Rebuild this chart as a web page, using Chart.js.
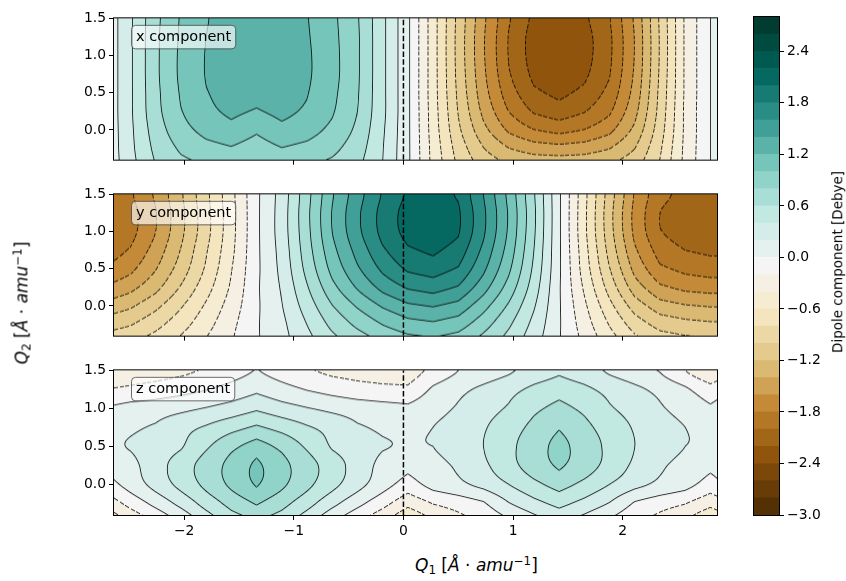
<!DOCTYPE html>
<html>
<head>
<meta charset="utf-8">
<script src="https://cdn.jsdelivr.net/npm/chart.js@4.4.1/dist/chart.umd.min.js"></script>
<style>
html,body{margin:0;padding:0;background:#fff;}
body{width:846px;height:581px;position:relative;overflow:hidden;font-family:'DejaVu Sans',sans-serif;}
canvas{position:absolute;}
.lbl{position:absolute;white-space:nowrap;color:#000;line-height:1;font-family:'DejaVu Sans',sans-serif;}
.lbl i{font-style:italic;}
.lbl sub{font-size:0.7em;vertical-align:-0.28em;line-height:0;}
.lbl sup{font-size:0.7em;vertical-align:0.5em;line-height:0;}
</style>
</head>
<body>
<canvas id="p0" width="740" height="164" style="left:0;top:7px"></canvas>
<canvas id="p1" width="740" height="164" style="left:0;top:183px"></canvas>
<canvas id="p2" width="740" height="191" style="left:0;top:359px"></canvas>
<canvas id="cb" width="106" height="530" style="left:740px;top:0"></canvas>

<div class="lbl" style="left:22px;top:303px;font-size:17px;transform:translate(-50%,-50%) rotate(-90deg);"><i>Q</i><sub>2</sub> [<i>Å</i> · <i>amu</i><sup>−1</sup>]</div>
<div class="lbl" style="left:415px;top:557px;font-size:17px;"><i>Q</i><sub>1</sub> [<i>Å</i> · <i>amu</i><sup>−1</sup>]</div>
<div class="lbl" style="left:838px;top:262px;font-size:13.5px;transform:translate(-50%,-50%) rotate(-90deg);">Dipole component [Debye]</div>

<script>
// ---------------- data ----------------
const Q1_NODES = [-2.72, -2.49, -2.26, -2.03, -1.80, -1.57, -1.34, -1.11, -0.88, -0.65, -0.42, -0.19, 0.04, 0.27, 0.50, 0.73, 0.96, 1.19, 1.42, 1.65, 1.88, 2.11, 2.34, 2.57, 2.80, 3.03];
const Q2_NODES = [-0.5, -0.25, 0.0, 0.25, 0.5, 0.75, 1.0, 1.25, 1.5];

// rows = Q2_NODES (bottom to top), columns = Q1_NODES
const X_COMPONENT = [
  [0.03, 0.33, 0.60, 0.74, 0.80, 0.83, 0.76, 0.84, 0.81, 0.75, 0.64, 0.40, 0.04, -0.46, -0.83, -1.07, -1.19, -1.23, -1.24, -1.23, -1.19, -1.07, -0.78, -0.34, 0.00, 0.30],
  [0.03, 0.35, 0.65, 0.83, 0.93, 0.98, 0.90, 0.99, 0.94, 0.85, 0.70, 0.41, 0.04, -0.47, -0.89, -1.19, -1.39, -1.49, -1.52, -1.49, -1.40, -1.20, -0.83, -0.35, 0.00, 0.30],
  [0.03, 0.36, 0.70, 0.93, 1.06, 1.13, 1.03, 1.14, 1.08, 0.95, 0.76, 0.43, 0.04, -0.49, -0.96, -1.34, -1.63, -1.79, -1.86, -1.79, -1.65, -1.35, -0.89, -0.36, 0.00, 0.30],
  [0.03, 0.37, 0.74, 0.99, 1.15, 1.24, 1.18, 1.25, 1.17, 1.02, 0.80, 0.45, 0.04, -0.50, -1.01, -1.45, -1.80, -2.02, -2.10, -2.01, -1.83, -1.46, -0.93, -0.36, 0.00, 0.30],
  [0.03, 0.37, 0.75, 1.02, 1.19, 1.28, 1.26, 1.29, 1.21, 1.05, 0.82, 0.45, 0.04, -0.51, -1.04, -1.52, -1.91, -2.16, -2.25, -2.15, -1.94, -1.53, -0.95, -0.37, 0.00, 0.30],
  [0.03, 0.37, 0.76, 1.04, 1.21, 1.30, 1.31, 1.32, 1.23, 1.07, 0.83, 0.45, 0.04, -0.51, -1.06, -1.56, -1.98, -2.25, -2.33, -2.24, -2.01, -1.57, -0.97, -0.37, 0.00, 0.30],
  [0.03, 0.37, 0.76, 1.04, 1.21, 1.30, 1.33, 1.32, 1.23, 1.07, 0.83, 0.45, 0.04, -0.51, -1.07, -1.58, -2.01, -2.29, -2.38, -2.28, -2.04, -1.59, -0.98, -0.37, 0.00, 0.30],
  [0.03, 0.37, 0.76, 1.03, 1.20, 1.29, 1.33, 1.30, 1.22, 1.06, 0.83, 0.45, 0.04, -0.51, -1.07, -1.58, -2.01, -2.29, -2.38, -2.28, -2.04, -1.59, -0.98, -0.37, 0.00, 0.30],
  [0.03, 0.37, 0.75, 1.02, 1.19, 1.28, 1.32, 1.29, 1.21, 1.05, 0.82, 0.45, 0.04, -0.51, -1.06, -1.56, -1.98, -2.25, -2.33, -2.24, -2.01, -1.57, -0.97, -0.37, 0.00, 0.30]
];

const Y_COMPONENT = [
  [-0.89, -0.82, -0.71, -0.55, -0.38, -0.21, -0.02, 0.13, 0.33, 0.53, 0.68, 0.82, 0.91, 0.95, 0.89, 0.72, 0.52, 0.28, 0.01, -0.24, -0.50, -0.73, -0.88, -0.93, -0.95, -0.95],
  [-1.09, -1.01, -0.86, -0.68, -0.47, -0.25, -0.02, 0.15, 0.40, 0.65, 0.84, 1.00, 1.12, 1.16, 1.09, 0.88, 0.63, 0.34, 0.02, -0.30, -0.61, -0.89, -1.07, -1.13, -1.16, -1.16],
  [-1.33, -1.23, -1.05, -0.82, -0.57, -0.31, -0.03, 0.19, 0.49, 0.79, 1.02, 1.22, 1.36, 1.41, 1.33, 1.07, 0.77, 0.42, 0.02, -0.36, -0.74, -1.09, -1.31, -1.38, -1.41, -1.41],
  [-1.58, -1.46, -1.26, -0.98, -0.68, -0.37, -0.03, 0.22, 0.58, 0.94, 1.22, 1.46, 1.62, 1.68, 1.58, 1.28, 0.92, 0.50, 0.02, -0.43, -0.88, -1.30, -1.56, -1.65, -1.68, -1.68],
  [-1.78, -1.65, -1.41, -1.11, -0.77, -0.41, -0.04, 0.25, 0.66, 1.06, 1.37, 1.64, 1.83, 1.89, 1.78, 1.44, 1.04, 0.56, 0.03, -0.49, -0.99, -1.46, -1.76, -1.85, -1.89, -1.89],
  [-1.92, -1.78, -1.52, -1.19, -0.82, -0.45, -0.04, 0.27, 0.71, 1.14, 1.47, 1.77, 1.97, 2.04, 1.92, 1.55, 1.12, 0.60, 0.03, -0.52, -1.07, -1.57, -1.89, -2.00, -2.04, -2.04],
  [-2.02, -1.87, -1.60, -1.25, -0.87, -0.47, -0.04, 0.29, 0.74, 1.20, 1.55, 1.86, 2.07, 2.14, 2.02, 1.63, 1.17, 0.63, 0.03, -0.55, -1.12, -1.65, -1.99, -2.10, -2.14, -2.14],
  [-2.03, -1.88, -1.61, -1.26, -0.87, -0.47, -0.04, 0.29, 0.75, 1.21, 1.56, 1.87, 2.08, 2.15, 2.03, 1.64, 1.18, 0.64, 0.03, -0.55, -1.13, -1.66, -2.00, -2.11, -2.15, -2.15],
  [-1.98, -1.83, -1.57, -1.23, -0.85, -0.46, -0.04, 0.28, 0.73, 1.18, 1.52, 1.82, 2.03, 2.10, 1.98, 1.60, 1.15, 0.62, 0.03, -0.54, -1.10, -1.62, -1.95, -2.06, -2.10, -2.10]
];

const Z_COMPONENT = [
  [-0.60, -0.36, -0.17, 0.03, 0.28, 0.50, 0.60, 0.50, 0.28, 0.03, -0.17, -0.36, -0.60, -0.40, -0.27, -0.15, -0.03, 0.12, 0.25, 0.12, -0.03, -0.15, -0.27, -0.40, -0.60, -0.40],
  [-0.34, -0.13, 0.06, 0.26, 0.48, 0.67, 0.82, 0.67, 0.48, 0.26, 0.06, -0.13, -0.34, -0.19, -0.11, -0.02, 0.19, 0.34, 0.46, 0.34, 0.19, -0.02, -0.11, -0.19, -0.34, -0.19],
  [-0.10, 0.08, 0.27, 0.46, 0.65, 0.84, 1.02, 0.84, 0.65, 0.46, 0.27, 0.08, -0.09, 0.07, 0.15, 0.26, 0.40, 0.55, 0.68, 0.55, 0.40, 0.26, 0.15, 0.07, -0.09, 0.07],
  [0.05, 0.14, 0.31, 0.50, 0.68, 0.86, 1.04, 0.86, 0.68, 0.50, 0.31, 0.14, 0.06, 0.13, 0.23, 0.36, 0.53, 0.70, 0.83, 0.70, 0.53, 0.36, 0.23, 0.13, 0.05, 0.13],
  [0.16, 0.21, 0.27, 0.38, 0.57, 0.75, 0.89, 0.75, 0.57, 0.38, 0.27, 0.21, 0.18, 0.20, 0.29, 0.40, 0.55, 0.71, 0.865, 0.71, 0.55, 0.40, 0.29, 0.20, 0.16, 0.20],
  [0.12, 0.17, 0.22, 0.33, 0.42, 0.53, 0.63, 0.53, 0.42, 0.33, 0.22, 0.17, 0.14, 0.20, 0.27, 0.38, 0.51, 0.65, 0.785, 0.65, 0.51, 0.38, 0.27, 0.20, 0.12, 0.20],
  [0.01, 0.07, 0.10, 0.15, 0.21, 0.28, 0.37, 0.28, 0.21, 0.15, 0.10, 0.07, 0.04, 0.13, 0.22, 0.32, 0.42, 0.56, 0.66, 0.56, 0.42, 0.32, 0.22, 0.13, 0.03, 0.13],
  [-0.20, -0.16, -0.12, -0.07, -0.01, 0.07, 0.16, 0.07, -0.01, -0.07, -0.12, -0.15, -0.16, 0.03, 0.15, 0.24, 0.34, 0.44, 0.52, 0.44, 0.34, 0.24, 0.15, 0.03, -0.13, 0.03],
  [-0.36, -0.32, -0.28, -0.24, -0.18, -0.08, 0.01, -0.08, -0.18, -0.24, -0.27, -0.29, -0.31, -0.14, 0.00, 0.08, 0.17, 0.29, 0.37, 0.29, 0.17, 0.08, -0.01, -0.20, -0.37, -0.20]
];

const LEVELS = [-3.0, -2.8, -2.6, -2.4, -2.2, -2.0, -1.8, -1.6, -1.4, -1.2, -1.0, -0.8, -0.6, -0.4, -0.2, 0.0, 0.2, 0.4, 0.6, 0.8, 1.0, 1.2, 1.4, 1.6, 1.8, 2.0, 2.2, 2.4, 2.6, 2.8];
const PANEL_NAMES = ['x component', 'y component', 'z component'];
const X_TICKS = [-2, -1, 0, 1, 2];
const X_TICK_LABELS = ['\u22122', '\u22121', '0', '1', '2'];
const Y_TICKS = [0.0, 0.5, 1.0, 1.5];
const Y_TICK_LABELS = ['0.0', '0.5', '1.0', '1.5'];
const CB_TICKS = [-3.0, -2.4, -1.8, -1.2, -0.6, 0.0, 0.6, 1.2, 1.8, 2.4];
const CB_TICK_LABELS = ['\u22123.0', '\u22122.4', '\u22121.8', '\u22121.2', '\u22120.6', '0.0', '0.6', '1.2', '1.8', '2.4'];
const X_RANGE = [-2.64, 2.86];
const Y_RANGE = [-0.40, 1.5];

// ---------------- style ----------------
const FONT = 'DejaVu Sans';
const BRBG = ['#543005','#8c510a','#bf812d','#dfc27d','#f6e8c3','#f5f5f5','#c7eae5','#80cdc1','#35978f','#01665e','#003c30'];
function hexRgb(h){return [parseInt(h.slice(1,3),16),parseInt(h.slice(3,5),16),parseInt(h.slice(5,7),16)];}
const BRBG_RGB = BRBG.map(hexRgb);
function cmap(t){
  t = Math.max(0, Math.min(1, t));
  const x = t*(BRBG_RGB.length-1);
  const i = Math.min(BRBG_RGB.length-2, Math.floor(x));
  const f = x - i;
  const a = BRBG_RGB[i], b = BRBG_RGB[i+1];
  return [a[0]+(b[0]-a[0])*f, a[1]+(b[1]-a[1])*f, a[2]+(b[2]-a[2])*f];
}
const NB = LEVELS.length - 1;
const BAND_RGB = [];
for (let k = 0; k < NB; k++) BAND_RGB.push(cmap(k/(NB-1)));
const rgbStr = c => 'rgb(' + Math.round(c[0]) + ',' + Math.round(c[1]) + ',' + Math.round(c[2]) + ')';

const LINE_W = 0.85, LINE_ALPHA = 0.9, DASH_PERIOD = 5.5, DASH_ON = 3.6;

function renderField(chart, grid, W, H, dpr){
  const a = chart.chartArea, sx = chart.scales.x, sy = chart.scales.y;
  const nR = Q2_NODES.length, nC = Q1_NODES.length;
  const vals = new Float32Array(W*H);
  const col = new Float64Array(nR);
  const q2s = new Float64Array(H), js = new Int32Array(H);
  for (let py = 0; py < H; py++){
    const q2 = sy.getValueForPixel(a.top + (py+0.5)/dpr);
    let j = 0; while (j < nR-2 && Q2_NODES[j+1] <= q2) j++;
    q2s[py] = q2; js[py] = j;
  }
  for (let px = 0; px < W; px++){
    const q1 = sx.getValueForPixel(a.left + (px+0.5)/dpr);
    let i = 0; while (i < nC-2 && Q1_NODES[i+1] <= q1) i++;
    const t = (q1 - Q1_NODES[i])/(Q1_NODES[i+1]-Q1_NODES[i]);
    for (let j = 0; j < nR; j++) col[j] = grid[j][i]*(1-t) + grid[j][i+1]*t;
    for (let py = 0; py < H; py++){
      const j = js[py];
      const u = (q2s[py]-Q2_NODES[j])/(Q2_NODES[j+1]-Q2_NODES[j]);
      const p0 = col[Math.max(j-1,0)], p1 = col[j], p2 = col[j+1], p3 = col[Math.min(j+2,nR-1)];
      const u2 = u*u, u3 = u2*u;
      vals[py*W+px] = 0.5*(2*p1 + (p2-p0)*u + (2*p0-5*p1+4*p2-p3)*u2 + (3*p1-p0-3*p2+p3)*u3);
    }
  }
  const off = document.createElement('canvas'); off.width = W; off.height = H;
  const octx = off.getContext('2d');
  const img = octx.createImageData(W, H); const d = img.data;
  const L0 = LEVELS[0], STEP = LEVELS[1]-LEVELS[0];
  const lw = LINE_W*dpr, P = DASH_PERIOD*dpr, ON = DASH_ON*dpr;
  for (let py = 0; py < H; py++){
    for (let px = 0; px < W; px++){
      const k = py*W+px, v = vals[k];
      let b = Math.floor((v-L0)/STEP + 1e-9); b = Math.max(0, Math.min(NB-1, b));
      const c = BAND_RGB[b];
      const xl = px > 0 ? vals[k-1] : v, xr = px < W-1 ? vals[k+1] : v;
      const yu = py > 0 ? vals[k-W] : v, yd = py < H-1 ? vals[k+W] : v;
      const gx = (xr-xl)/((px>0 && px<W-1) ? 2 : 1);
      const gy = (yd-yu)/((py>0 && py<H-1) ? 2 : 1);
      const g = Math.hypot(gx, gy);
      let li = Math.round((v-L0)/STEP); li = Math.max(0, Math.min(LEVELS.length-1, li));
      const L = L0 + li*STEP;
      let cov = 0;
      if (g > 1e-9){
        const dist = Math.abs(v-L)/g;
        cov = Math.max(0, Math.min(1, lw/2 + 0.5 - dist));
      }
      if (cov > 0 && L < -1e-6){
        const s = Math.abs(gx) >= Math.abs(gy) ? py : px;
        if ((s % P) >= ON) cov = 0;
      }
      const al = cov*LINE_ALPHA;
      d[4*k] = c[0]*(1-al); d[4*k+1] = c[1]*(1-al); d[4*k+2] = c[2]*(1-al); d[4*k+3] = 255;
    }
  }
  octx.putImageData(img, 0, 0);
  return off;
}

function fieldPlugin(grid){
  return {
    id: 'field',
    beforeDatasetsDraw(chart){
      const a = chart.chartArea, ctx = chart.ctx;
      const dpr = chart.currentDevicePixelRatio || 1;
      const cw = a.right - a.left, ch = a.bottom - a.top;
      const W = Math.max(1, Math.round(cw*dpr)), H = Math.max(1, Math.round(ch*dpr));
      if (!chart.$field || chart.$field.W !== W || chart.$field.H !== H){
        chart.$field = {W, H, canvas: renderField(chart, grid, W, H, dpr)};
      }
      ctx.save();
      ctx.drawImage(chart.$field.canvas, a.left, a.top, cw, ch);
      ctx.restore();
    }
  };
}

function framePlugin(name){
  return {
    id: 'frame',
    afterDraw(chart){
      const a = chart.chartArea, ctx = chart.ctx;
      ctx.save();
      ctx.strokeStyle = '#000'; ctx.lineWidth = 1;
      ctx.strokeRect(a.left-0.5, a.top-0.5, a.right-a.left+1, a.bottom-a.top+1);
      if (name){
        ctx.font = '14.5px "' + FONT + '"';
        const tw = ctx.measureText(name).width;
        const bx = a.left + 17.5, by = a.top + 7, bw = tw + 9, bh = 23.5, r = 4;
        ctx.beginPath();
        ctx.moveTo(bx+r, by); ctx.lineTo(bx+bw-r, by); ctx.arcTo(bx+bw, by, bx+bw, by+r, r);
        ctx.lineTo(bx+bw, by+bh-r); ctx.arcTo(bx+bw, by+bh, bx+bw-r, by+bh, r);
        ctx.lineTo(bx+r, by+bh); ctx.arcTo(bx, by+bh, bx, by+bh-r, r);
        ctx.lineTo(bx, by+r); ctx.arcTo(bx, by, bx+r, by, r); ctx.closePath();
        ctx.fillStyle = 'rgba(255,255,255,0.65)'; ctx.fill();
        ctx.strokeStyle = 'rgba(60,60,60,0.75)'; ctx.lineWidth = 1; ctx.stroke();
        ctx.fillStyle = '#000'; ctx.textBaseline = 'middle'; ctx.textAlign = 'left';
        ctx.fillText(name, bx + 4.5, by + bh/2 + 0.5);
      }
      ctx.restore();
    }
  };
}

function axisCommon(){
  return {
    grid: {display: true, drawOnChartArea: false, drawTicks: true, tickLength: 5, color: '#000', lineWidth: 1},
    border: {display: false}
  };
}

function makePanel(id, grid, name, showX, xAxisH){
  return new Chart(document.getElementById(id), {
    type: 'scatter',
    data: {datasets: [{
      type: 'line',
      data: [{x: 0, y: Y_RANGE[0]}, {x: 0, y: Y_RANGE[1]}],
      borderColor: '#000', borderWidth: 1.5, borderDash: [5.5, 2.4],
      pointRadius: 0, fill: false, tension: 0
    }]},
    options: {
      responsive: false, animation: false, events: [],
      layout: {padding: {top: 10, right: 23, left: 0, bottom: 0}},
      plugins: {legend: {display: false}, tooltip: {enabled: false}},
      scales: {
        x: Object.assign(axisCommon(), {
          type: 'linear', min: X_RANGE[0], max: X_RANGE[1],
          afterBuildTicks: s => { s.ticks = X_TICKS.map(v => ({value: v})); },
          afterFit: s => { s.height = xAxisH; },
          ticks: {display: showX, autoSkip: false, maxRotation: 0, padding: 3, color: '#000',
                  font: {family: FONT, size: 13.9}, callback: (v, i) => X_TICK_LABELS[i]}
        }),
        y: Object.assign(axisCommon(), {
          type: 'linear', min: Y_RANGE[0], max: Y_RANGE[1],
          afterBuildTicks: s => { s.ticks = Y_TICKS.map(v => ({value: v})); },
          afterFit: s => { s.width = 114; },
          ticks: {autoSkip: false, padding: 3, color: '#000',
                  font: {family: FONT, size: 13.9}, callback: (v, i) => Y_TICK_LABELS[i]}
        })
      }
    },
    plugins: [fieldPlugin(grid), framePlugin(name)]
  });
}

makePanel('p0', X_COMPONENT, PANEL_NAMES[0], false, 8);
makePanel('p1', Y_COMPONENT, PANEL_NAMES[1], false, 8);
makePanel('p2', Z_COMPONENT, PANEL_NAMES[2], true, 35);

// colorbar
new Chart(document.getElementById('cb'), {
  type: 'bar',
  data: {
    labels: ['cb'],
    datasets: BAND_RGB.map((c, k) => ({
      data: [[LEVELS[k], LEVELS[k+1]]],
      backgroundColor: rgbStr(c), borderWidth: 0,
      barPercentage: 1, categoryPercentage: 1, grouped: false
    }))
  },
  options: {
    responsive: false, animation: false, events: [],
    layout: {padding: {left: 14, top: 17, bottom: 15, right: 0}},
    plugins: {legend: {display: false}, tooltip: {enabled: false}},
    scales: {
      x: {display: false},
      y: Object.assign(axisCommon(), {
        position: 'right', min: LEVELS[0], max: LEVELS[LEVELS.length-1],
        afterBuildTicks: s => { s.ticks = CB_TICKS.map(v => ({value: v})); },
        afterFit: s => { s.width = 67; },
        ticks: {autoSkip: false, padding: 3, color: '#000',
                font: {family: FONT, size: 13.9}, callback: (v, i) => CB_TICK_LABELS[i]}
      })
    }
  },
  plugins: [framePlugin(null)]
});
</script>
</body>
</html>
